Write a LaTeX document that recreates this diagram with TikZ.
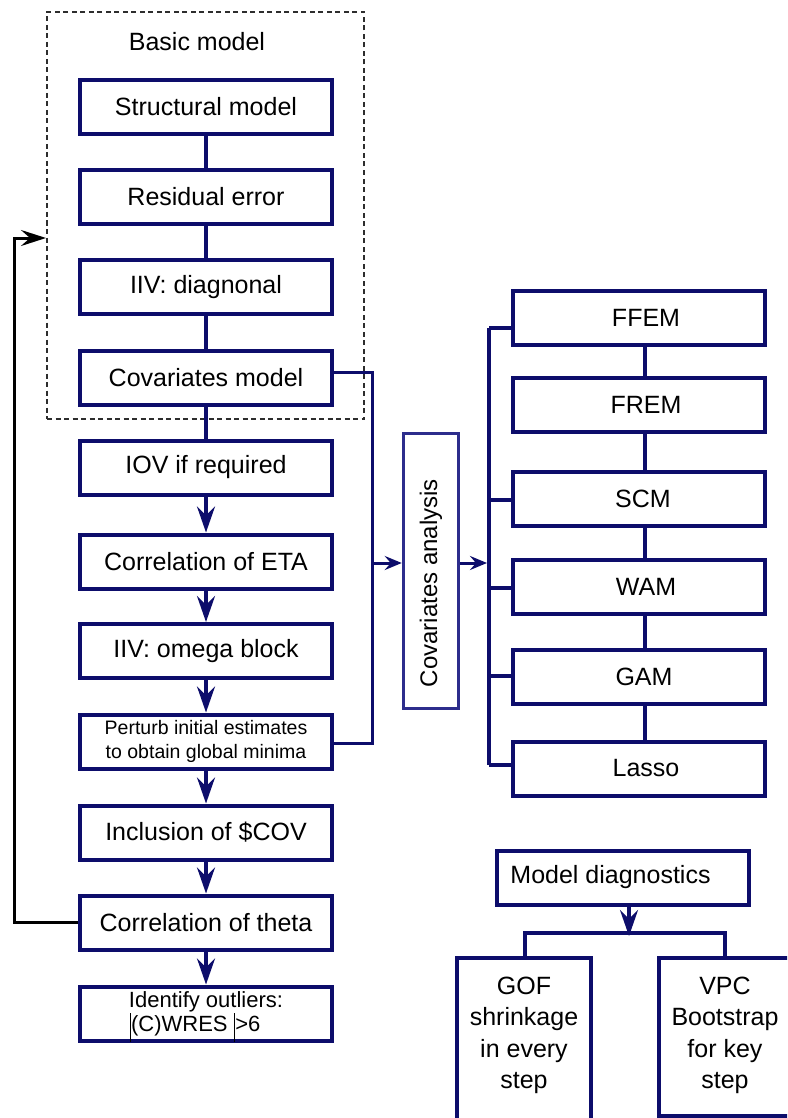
\documentclass[tikz,border=0pt]{standalone}
\usepackage{fontspec}
\setmainfont{Liberation Sans}
\usetikzlibrary{arrows.meta}
\definecolor{navy}{RGB}{13,13,107}
\definecolor{navyl}{RGB}{45,45,140}
\definecolor{dashgray}{RGB}{45,45,45}
\newcommand\outbar{\smash{\rule[-11pt]{1.5pt}{29pt}}}
\tikzset{
  box/.style={draw=navy, line width=4pt, minimum width=252pt, minimum height=54pt,
    inner sep=0pt, align=center, font=\fontsize{25}{30}\selectfont},
  smalltext/.style={font=\fontsize{19.5}{24}\selectfont},
  midtext/.style={font=\fontsize{22}{24}\selectfont},
  tallbox/.style={draw=navy, line width=4pt, inner sep=0pt, anchor=north,
    font=\fontsize{25}{31.5}\selectfont},
  link/.style={draw=navy, line width=3.3pt},
  bus/.style={draw=navy, line width=4pt},
  flow/.style={draw=navy, line width=3.3pt, -{Stealth[length=26pt,width=18pt,inset=9pt]}},
  thinlink/.style={draw=navy, line width=3pt},
  thinflow/.style={draw=navy, line width=3pt, -{Stealth[length=17pt,width=14pt,inset=6pt]}},
  feedback/.style={draw=black, line width=3pt, -{Stealth[length=25pt,width=16pt,inset=9pt]}},
}
\begin{document}
\begin{tikzpicture}[x=1pt,y=-1pt]
\useasboundingbox (0,0) rectangle (787,1118);
\clip (0,0) rectangle (787,1118);

% basic model frame
\node[draw=dashgray, dash pattern=on 5pt off 3.5pt, line width=2pt,
  minimum width=317pt, minimum height=407pt, inner sep=0pt] (basic) at (205.5,215.5) {};
\node[font=\fontsize{25}{30}\selectfont] (basiclbl) at (197,42) {Basic model};

% left column
\node[box] (struct) at (206,107) {Structural model};
\node[box] (resid) at (206,197) {Residual error};
\node[box] (iivd) at (206,287) {IIV: diagnonal};
\node[box] (covm) at (206,378) {Covariates model};
\node[box] (iov) at (206,467.5) {IOV if required};
\node[box] (eta) at (206,561.5) {Correlation of ETA};
\node[box] (omega) at (206,651) {IIV: omega block};
\node[box, smalltext] (pert) at (206,741.5) {Perturb initial estimates\\to obtain global minima};
\node[box] (incl) at (206,832.5) {Inclusion of \$COV};
\node[box] (theta) at (206,922.5) {Correlation of theta};
\node[box, midtext] (outl) at (206,1013.5) {Identify outliers:\\\outbar(C)WRES \outbar>6\hspace*{22pt}};

\draw[link] (struct.south) -- (resid.north);
\draw[link] (resid.south) -- (iivd.north);
\draw[link] (iivd.south) -- (covm.north);
\draw[link] (covm.south) -- (iov.north);
\draw[flow] (iov.south) -- (eta.north);
\draw[flow] (eta.south) -- (omega.north);
\draw[flow] (omega.south) -- (pert.north);
\draw[flow] (pert.south) -- (incl.north);
\draw[flow] (incl.south) -- (theta.north);
\draw[flow] (theta.south) -- (outl.north);

% feedback loop
\coordinate (fb1) at (14,922.5);
\coordinate (fb2) at (14,238);
\draw[feedback] (theta.west) -- (fb1) -- (fb2) -- (fb2 -| basic.west);

% covariates analysis
\node[draw=navyl, line width=3.5pt, minimum width=55pt, minimum height=275pt, inner sep=0pt,
  font=\fontsize{24}{28}\selectfont] (covan) at (431,571)
  {\rotatebox{90}{Covariates analysis\hspace*{24pt}}};
\coordinate (c1) at (372,372);
\coordinate (c2) at (372,743);
\coordinate (cin) at (372,563);
\draw[thinlink] (c1 -| covm.east) -- (c1) -- (c2) -- (c2 -| pert.east);
\draw[thinflow] (cin) -- (cin -| covan.west);

% right column
\node[box] (ffem) at (639,318) {\hspace*{14pt}FFEM};
\node[box] (frem) at (639,404.5) {\hspace*{14pt}FREM};
\node[box] (scm) at (639,498.5) {\hspace*{8pt}SCM};
\node[box] (wam) at (639,586.5) {\hspace*{14pt}WAM};
\node[box] (gam) at (639,676.5) {\hspace*{10pt}GAM};
\node[box] (lasso) at (639,768.5) {\hspace*{14pt}Lasso};
\draw[link] ([xshift=6pt]ffem.south) -- ([xshift=6pt]frem.north);
\draw[link] ([xshift=6pt]frem.south) -- ([xshift=6pt]scm.north);
\draw[link] ([xshift=6pt]scm.south) -- ([xshift=6pt]wam.north);
\draw[link] ([xshift=6pt]wam.south) -- ([xshift=6pt]gam.north);
\draw[link] ([xshift=6pt]gam.south) -- ([xshift=6pt]lasso.north);

\coordinate (b1) at (489,328);
\coordinate (b2) at (489,500);
\coordinate (b3) at (489,588);
\coordinate (b4) at (489,676);
\coordinate (b5) at (489,765);
\coordinate (bmid) at (489,563);
\draw[bus] (b1) -- (b5);
\draw[link] (b1) -- (b1 -| ffem.west);
\draw[link] (b2) -- (b2 -| scm.west);
\draw[link] (b3) -- (b3 -| wam.west);
\draw[link] (b4) -- (b4 -| gam.west);
\draw[link] (b5) -- (b5 -| lasso.west);
\draw[thinflow] (bmid -| covan.east) -- ([xshift=-2pt]bmid);

% model diagnostics
\node[box] (md) at (622.5,877.5) {Model diagnostics\hspace*{24pt}};
\node[tallbox] (gof) at (524,956)
  {\parbox[t][185pt][t]{134pt}{\centering\vspace*{19pt}GOF\\shrinkage\\in every\\step}};
\node[tallbox] (vpc) at (725,956)
  {\parbox[t][157.5pt][t]{132pt}{\centering\vspace*{19pt}VPC\\Bootstrap\\for key\\step}};
\coordinate (mdtip) at (629,936);
\coordinate (hl) at (525,933);
\coordinate (hr) at (725,933);
\draw[link] (hl |- gof.north) -- (hl) -- (hr) -- (hr |- vpc.north);
\draw[flow] (mdtip |- md.south) -- (mdtip);
\end{tikzpicture}
\end{document}
